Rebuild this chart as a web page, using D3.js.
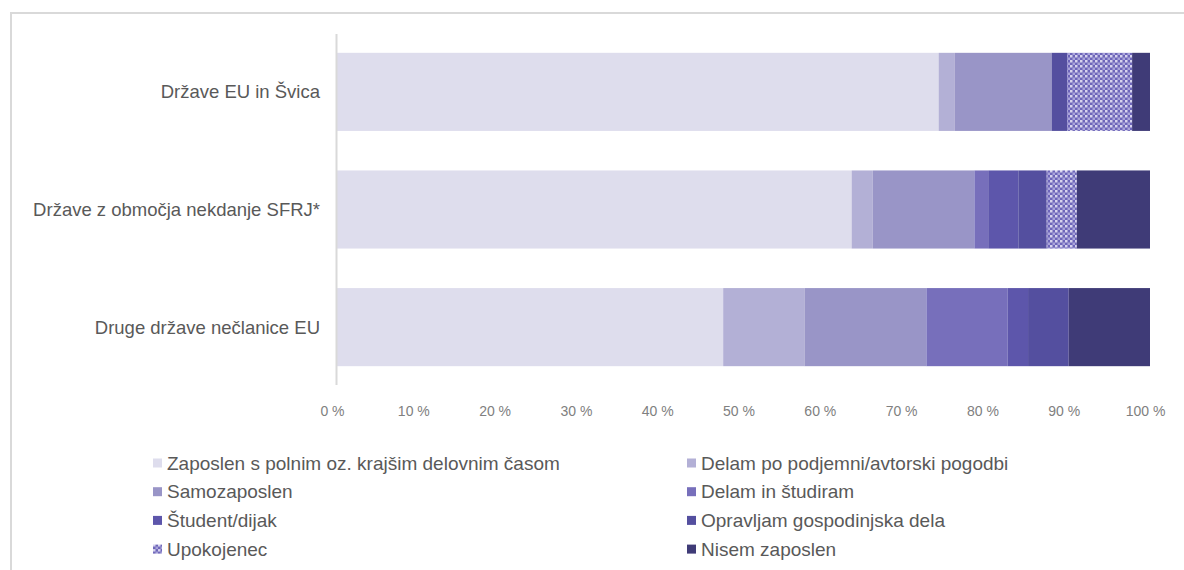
<!DOCTYPE html>
<html>
<head>
<meta charset="utf-8">
<script src="https://cdn.jsdelivr.net/npm/d3@7"></script>
<style>
  html, body { margin: 0; padding: 0; background: #fff; }
  svg { display: block; font-family: "Liberation Sans", Arial, sans-serif; }
</style>
</head>
<body>
<svg id="chart" width="1184" height="570"></svg>
<script>
// Country groups (rows of the chart)
const groups = [
  "Države EU in Švica",
  "Države z območja nekdanje SFRJ*",
  "Druge države nečlanice EU"
];

// Employment status categories (stack order)
const statuses = [
  "Zaposlen s polnim oz. krajšim delovnim časom",
  "Delam po podjemni/avtorski pogodbi",
  "Samozaposlen",
  "Delam in študiram",
  "Študent/dijak",
  "Opravljam gospodinjska dela",
  "Upokojenec",
  "Nisem zaposlen"
];

// Shares in % for each status, one value per group (same order as groups)
const zaposlen      = [74.0, 63.3, 47.5];
const pogodba       = [2.0, 2.6, 10.0];
const samozaposlen  = [11.9, 12.5, 15.0];
const delamStudiram = [0.0, 1.7, 10.0];
const student       = [0.0, 3.7, 2.5];
const gospodinjska  = [1.9, 3.5, 5.0];
const upokojenec    = [8.0, 3.7, 0.0];
const nezaposlen    = [2.2, 9.0, 10.0];

const seriesValues = [zaposlen, pogodba, samozaposlen, delamStudiram, student, gospodinjska, upokojenec, nezaposlen];

const tickValues = [0, 10, 20, 30, 40, 50, 60, 70, 80, 90, 100];

const colors = ["#dedded", "#b3b0d6", "#9995c7", "#776fbb", "#5d56ab", "#544f9f", "url(#dots)", "#3f3b77"];

const svg = d3.select("#chart");

// dotted fill for the pensioner segment
const defs = svg.append("defs");
const pat = defs.append("pattern")
  .attr("id", "dots")
  .attr("patternUnits", "userSpaceOnUse")
  .attr("width", 5).attr("height", 5);
pat.append("rect").attr("width", 5).attr("height", 5).attr("fill", "#6d65b9");
pat.append("rect").attr("x", 0).attr("y", 0).attr("width", 2.5).attr("height", 2.5).attr("fill", "#d6d3ee");
pat.append("rect").attr("x", 2.5).attr("y", 2.5).attr("width", 2.5).attr("height", 2.5).attr("fill", "#a9a4da");

// frame around the chart area
svg.append("path")
  .attr("d", "M11,570 V13 H1184")
  .attr("fill", "none")
  .attr("stroke", "#d9d9d9")
  .attr("stroke-width", 2);

// table for stacking
const table = groups.map((g, i) => {
  const row = { group: g };
  statuses.forEach((s, j) => { row[s] = seriesValues[j][i]; });
  return row;
});
const stacked = d3.stack().keys(statuses)(table);

const x = d3.scaleLinear().domain([0, 100]).range([337, 1150]);
const y = d3.scaleBand().domain(groups).range([34, 385]).paddingInner(0.336).paddingOuter(0.16);
const color = d3.scaleOrdinal().domain(statuses).range(colors);

// bars
svg.append("g").selectAll("g")
  .data(stacked)
  .join("g")
  .attr("fill", d => color(d.key))
  .selectAll("rect")
  .data(d => d)
  .join("rect")
  .attr("x", d => x(d[0]))
  .attr("y", d => y(d.data.group))
  .attr("width", d => Math.max(0, x(d[1]) - x(d[0])))
  .attr("height", y.bandwidth());

// vertical category axis line
svg.append("line")
  .attr("x1", 336.5).attr("x2", 336.5)
  .attr("y1", 34).attr("y2", 385)
  .attr("stroke", "#d9d9d9").attr("stroke-width", 2);

// category labels
svg.append("g").selectAll("text")
  .data(groups)
  .join("text")
  .attr("x", 320)
  .attr("y", d => y(d) + y.bandwidth() / 2)
  .attr("dy", "0.35em")
  .attr("text-anchor", "end")
  .attr("fill", "#595959")
  .attr("font-size", 18.5)
  .text(d => d);

// percentage axis
const xAxis = d3.axisBottom(x)
  .tickValues(tickValues)
  .tickSize(0)
  .tickFormat(d => d + " %");
const gx = svg.append("g")
  .attr("transform", "translate(0,403)")
  .call(xAxis);
gx.select(".domain").remove();
gx.selectAll("text")
  .attr("dx", -5)
  .attr("fill", "#808080")
  .attr("font-size", 14)
  .attr("font-family", "Liberation Sans, Arial, sans-serif");

// legend: two columns, four rows
const legend = svg.append("g").selectAll("g")
  .data(statuses)
  .join("g")
  .attr("transform", (d, i) => {
    const col = i % 2, row = Math.floor(i / 2);
    return `translate(${col === 0 ? 153 : 687},${463 + row * 28.7})`;
  });
legend.append("rect")
  .attr("x", 0).attr("y", -4.5)
  .attr("width", 9).attr("height", 9)
  .attr("fill", d => color(d));
legend.append("text")
  .attr("x", 14)
  .attr("dy", "0.35em")
  .attr("fill", "#595959")
  .attr("font-size", 19)
  .text(d => d);
</script>
</body>
</html>
